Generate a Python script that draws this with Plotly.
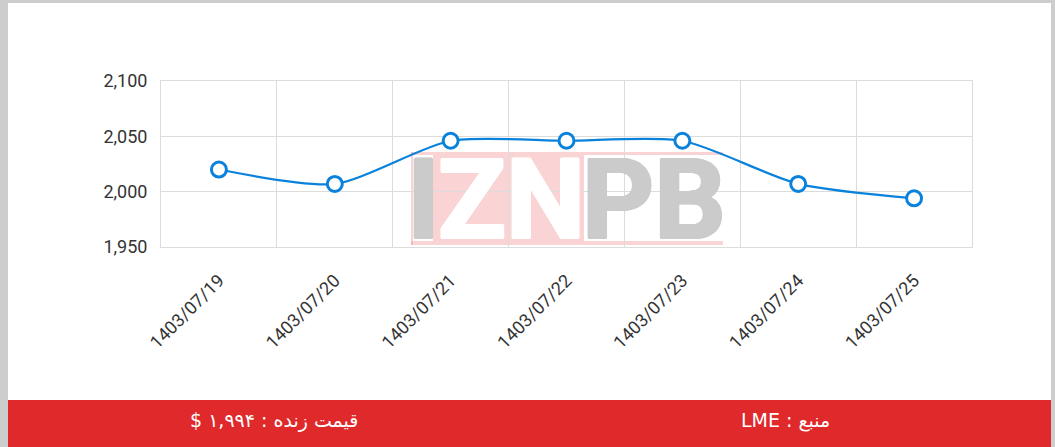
import plotly.graph_objects as go

# ---- data ----
dates = ["1403/07/19", "1403/07/20", "1403/07/21", "1403/07/22",
         "1403/07/23", "1403/07/24", "1403/07/25"]
prices = [2020, 2007, 2046, 2046, 2046, 2007, 1994]
y_ticks = [1950, 2000, 2050, 2100]
footer_live = "\u202bقیمت زنده : ۱,۹۹۴ $\u202c"
footer_source = "\u202bمنبع : LME\u202c"
logo_parts = ["I", "ZN", "PB"]

W, H = 1055, 447
L, R, T, B = 161, 972, 81, 247

def px(x):
    return (x - L) / (R - L)

def py(y):
    return (B - y) / (B - T)

BLUE = "#0a82dc"
RED = "#e0292b"
PINK = "rgba(238,120,120,0.32)"
LOGO_GRAY = "#cbcbcb"

fig = go.Figure()
fig.add_trace(go.Scatter(
    x=dates, y=prices, mode="lines+markers",
    line=dict(color=BLUE, width=2.2, shape="spline", smoothing=0.7),
    marker=dict(size=15, color="white", line=dict(color=BLUE, width=3)),
    hoverinfo="skip", showlegend=False,
))

shapes = [
    dict(type="rect", xref="paper", yref="paper", x0=px(8), x1=px(1051),
         y0=py(400), y1=py(3), fillcolor="white", line_width=0, layer="below"),
    dict(type="rect", xref="paper", yref="paper", x0=px(8), x1=px(1051),
         y0=py(447), y1=py(400), fillcolor=RED, line_width=0, layer="below"),
    dict(type="rect", xref="paper", yref="paper", x0=px(433), x1=px(584),
         y0=py(245), y1=py(152), fillcolor=PINK, line_width=0, layer="below"),
    dict(type="rect", xref="paper", yref="paper", x0=px(411), x1=px(433),
         y0=py(155), y1=py(152), fillcolor=PINK, line_width=0, layer="below"),
    dict(type="rect", xref="paper", yref="paper", x0=px(584), x1=px(723),
         y0=py(155), y1=py(152), fillcolor=PINK, line_width=0, layer="below"),
    dict(type="rect", xref="paper", yref="paper", x0=px(411), x1=px(433),
         y0=py(245), y1=py(241), fillcolor=PINK, line_width=0, layer="below"),
    dict(type="rect", xref="paper", yref="paper", x0=px(584), x1=px(723),
         y0=py(245), y1=py(241), fillcolor=PINK, line_width=0, layer="below"),
    dict(type="rect", xref="paper", yref="paper", x0=px(411), x1=px(413),
         y0=py(245), y1=py(152), fillcolor=PINK, line_width=0, layer="below"),
]

def logo(text, cx, color):
    sh = ", ".join("%gpx %gpx 0 %s" % (dx, dy, color)
                   for dx, dy in [(1.5, 0), (-1.5, 0), (0, 1), (0, -1),
                                  (1, 1), (-1, -1), (1, -1), (-1, 1)])
    return dict(text="<b>%s</b>" % text, x=px(cx), y=py(199), xref="paper", yref="paper",
                showarrow=False, xanchor="center", yanchor="middle",
                font=dict(family="Roboto", size=112, color=color, shadow=sh))

annotations = [
    logo(logo_parts[0], 423, LOGO_GRAY),
    logo(logo_parts[1], 511, "#ffffff"),
    logo(logo_parts[2], 654, LOGO_GRAY),
    dict(text=footer_live, x=px(274), y=py(421), xref="paper", yref="paper",
         showarrow=False, xanchor="center", yanchor="middle",
         font=dict(family="DejaVu Sans", size=19, color="white")),
    dict(text=footer_source, x=px(785), y=py(421), xref="paper", yref="paper",
         showarrow=False, xanchor="center", yanchor="middle",
         font=dict(family="DejaVu Sans", size=19, color="white")),
]

fig.update_layout(
    width=W, height=H,
    margin=dict(l=L, r=W - R, t=T, b=H - B, pad=0),
    paper_bgcolor="#cdcdcd",
    plot_bgcolor="white",
    shapes=shapes,
    annotations=annotations,
    font=dict(family="Roboto", color="#333333"),
    xaxis=dict(
        type="category", range=[-0.5, 6.5], tickson="boundaries",
        showgrid=True, gridcolor="#dcdcdc", gridwidth=1,
        showline=True, linecolor="#dcdcdc", mirror=True,
        ticks="", ticklabelstandoff=15,
        tickangle=-45, tickfont=dict(family="Roboto", size=18, color="#333333"),
        zeroline=False, fixedrange=True,
    ),
    yaxis=dict(
        range=[1950, 2100], tickvals=y_ticks, tickformat=",",
        showgrid=True, gridcolor="#dcdcdc", gridwidth=1,
        showline=True, linecolor="#dcdcdc", mirror=True,
        ticks="outside", ticklen=9, tickcolor="rgba(0,0,0,0)",
        tickfont=dict(family="Roboto", size=18, color="#333333"),
        zeroline=False, fixedrange=True,
    ),
)

fig.write_html(
    "out.html",
    config={"displayModeBar": False, "staticPlot": True},
    post_script="document.body.style.margin='0';document.body.style.overflow='hidden';",
)
